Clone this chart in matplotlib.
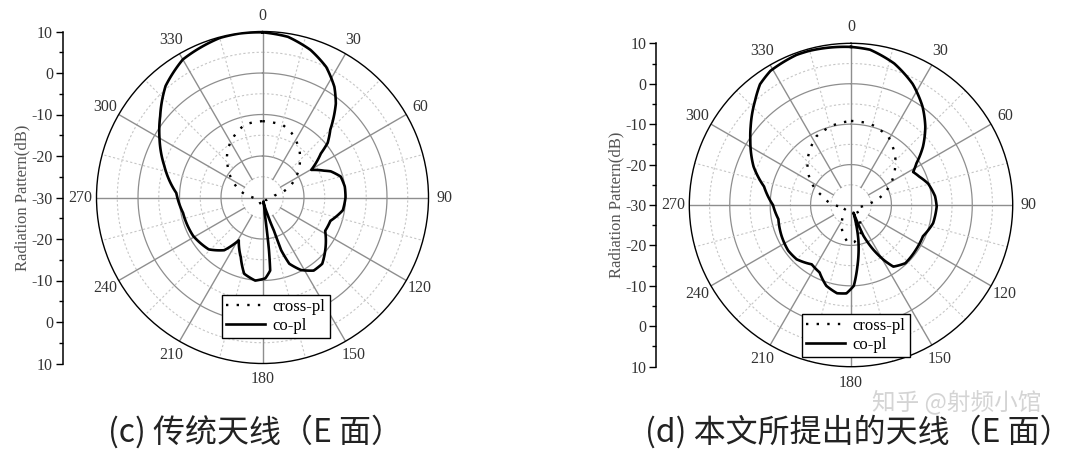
import numpy as np
import matplotlib.pyplot as plt

plt.rcParams['font.family'] = ['Liberation Serif', 'Noto Sans CJK SC', 'DejaVu Sans']

# (c) conventional antenna, E-plane  (angle in deg, gain in dB)
c_co_ang = [0, 9, 18, 26, 33, 38, 45, 50, 53, 60.5, 66.5, 69, 75, 82.5, 90, 99, 109, 118, 128, 138,
            145, 152, 158, 160.5, 161, 163.5, 168, 172, 173, 174, 178, 185, 193.5, 200, 209, 216,
            226, 241, 259, 273, 288, 299.5, 308.5, 319, 330, 345, 352, 360]
c_co_db = [9.8, 9.2, 7.4, 5.0, 1.8, -1.3, -6.9, -9.5, -12.4, -16.5, -13.8, -12.4, -10.5, -10.0, -10.0,
           -10.4, -12.7, -12.9, -10.7, -8.5, -8.5, -10.2, -12.8, -16.5, -21.6, -25.9, -29.0, -26.2,
           -17.2, -12.3, -10.5, -9.9, -11.1, -14.7, -18.2, -14.3, -12.0, -10.9, -10.5, -9.2, -5.1,
           -1.5, 1.5, 5.6, 8.4, 9.8, 9.9, 9.8]
c_x_ang = [0, 16, 24, 37.5, 44.5, 51, 66, 74, 80, 100, 130, 160, 180, 200, 230, 260, 272, 280.5,
           293, 312, 324, 338, 346.5, 360]
c_x_db = [-11.6, -11.9, -12.9, -15.4, -17.1, -18.6, -22.4, -24.7, -27.0, -28.5, -29.0, -28.5, -28.0,
          -28.5, -29.0, -28.5, -27.5, -25.7, -23.1, -18.7, -15.7, -13.2, -11.9, -11.6]

# (d) proposed antenna, E-plane
d_co_ang = [0, 7, 17, 27, 36, 43.5, 51, 57.5, 62, 67.5, 74.5, 84, 91, 102.5, 113.5, 124.5, 137,
            145.5, 149, 153.5, 158, 159.5, 162, 164, 168, 174, 178, 183, 189, 197, 205, 213.5, 225,
            234, 246, 259, 270, 282, 291.5, 303, 308, 317.5, 323, 329, 340, 345, 360]
d_co_db = [9.1, 8.7, 6.6, 3.6, 0.1, -3.3, -7.1, -10.8, -12.6, -11.7, -10.2, -9.1, -8.8, -9.2, -10.6,
           -10.5, -10.3, -11.5, -14.0, -17.7, -21.8, -25.3, -28.0, -26.3, -21.3, -14.8, -10.0, -8.1,
           -7.9, -9.1, -11.6, -12.4, -11.0, -10.8, -11.2, -11.7, -10.7, -8.0, -4.1, -0.3, 1.5, 5.1,
           7.4, 8.7, 9.5, 9.5, 9.1]
d_x_ang = [0, 14, 29, 42.5, 59, 74, 82, 90, 110, 135, 155, 162, 175, 184, 196, 215, 240, 262, 271,
           287, 300, 316, 333, 347, 360]
d_x_db = [-9.2, -9.4, -10.8, -13.8, -18.1, -22.2, -24.5, -26.5, -28.5, -28.0, -24.7, -22.3, -20.8,
          -20.6, -22.7, -26.5, -28.5, -27.5, -25.5, -22.7, -18.5, -14.5, -11.0, -9.8, -9.2]

theta_ticks = list(range(0, 360, 30))
r_min, r_max = -30, 10
side_pos = [-40, -30, -20, -10, 0, 10, 20, 30, 40]
side_labels = ['10', '0', '-10', '-20', '-30', '-20', '-10', '0', '10']
captions = ['(c) 传统天线（E 面）', '(d) 本文所提出的天线（E 面）']

W, H = 1080, 453
fig = plt.figure(figsize=(W / 100, H / 100), dpi=100)


def panel(cx, cy, rad, side_x, co_ang, co_db, x_ang, x_db, leg_xy, ylab_x, caption, cap_x):
    box = [(cx - rad) / W, (H - cy - rad) / H, 2 * rad / W, 2 * rad / H]
    ax = fig.add_axes(box, projection='polar')
    ax.set_theta_zero_location('N')
    ax.set_theta_direction(-1)
    ax.set_ylim(r_min, r_max)
    ax.grid(False)
    ax.set_yticks([])

    full = np.linspace(0, 2 * np.pi, 721)
    for r in [-25, -15, -5, 5]:
        ax.plot(full, np.full_like(full, r), color='#c6c6c6', lw=0.8, ls=(0, (2, 2)), zorder=1)
    for r in [-20, -10, 0]:
        ax.plot(full, np.full_like(full, r), color='#8e8e8e', lw=0.9, zorder=1)
    for a in range(15, 360, 30):
        ax.plot([np.deg2rad(a)] * 2, [-20, 10], color='#c6c6c6', lw=0.8, ls=(0, (2, 2)), zorder=1)
    for a in theta_ticks:
        start = -30 if a % 90 == 0 else -25
        ax.plot([np.deg2rad(a)] * 2, [start, 10], color='#8e8e8e', lw=1.0, zorder=1)

    lx, = ax.plot(np.deg2rad(x_ang), x_db, color='black', lw=1.7, ls=(0, (1, 3.5)),
                  label='cross-pl', zorder=3)
    lc, = ax.plot(np.deg2rad(co_ang), co_db, color='black', lw=1.9, label='co-pl', zorder=4)
    # draw segments as arcs/spirals in polar space instead of straight chords
    for ln in (lx, lc):
        ln.get_path()._interpolation_steps = 30

    ax.set_xticks(np.deg2rad(theta_ticks))
    ax.set_xticklabels([str(t) for t in theta_ticks])
    ax.tick_params(axis='x', pad=1, labelsize=11.5, labelcolor='#333333')
    ax.spines['polar'].set_color('black')
    ax.spines['polar'].set_linewidth(1.0)

    leg = ax.legend(loc='upper left', bbox_to_anchor=(leg_xy[0] / W, 1 - leg_xy[1] / H),
                    bbox_transform=fig.transFigure, fontsize=12, frameon=True, fancybox=False,
                    borderpad=0.25, labelspacing=0.15, handlelength=2.3, handletextpad=0.5,
                    borderaxespad=0)
    leg.get_frame().set_edgecolor('black')
    leg.get_frame().set_linewidth(1.0)
    leg.get_frame().set_alpha(1)

    sa = fig.add_axes([side_x / W, box[1], 0.0001, box[3]])
    sa.set_ylim(-40, 40)
    sa.set_xticks([])
    sa.set_yticks(side_pos, side_labels)
    sa.set_yticks(np.arange(-35, 40, 10), minor=True)
    for s in ['top', 'right', 'bottom']:
        sa.spines[s].set_visible(False)
    sa.spines['left'].set_linewidth(1.1)
    sa.tick_params(axis='y', which='major', length=5, width=1, labelsize=11.5, labelcolor='#333333', pad=2)
    sa.tick_params(axis='y', which='minor', length=3, width=1)
    sa.patch.set_visible(False)

    fig.text(ylab_x / W, 1 - cy / H, 'Radiation Pattern(dB)', rotation=90, ha='center', va='center',
             fontsize=12, color='#555555')
    fig.text(cap_x / W, 1 - 432 / H, caption, ha='center', va='center', fontsize=23,
             color='#222222', family=['Noto Sans CJK SC', 'DejaVu Sans'])


panel(262.5, 197.5, 166, 62.7, c_co_ang, c_co_db, c_x_ang, c_x_db, (222, 295), 22.4, captions[0], 256)
panel(851, 205, 161.7, 656.2, d_co_ang, d_co_db, d_x_ang, d_x_db, (802, 314), 616, captions[1], 858)

fig.text(957 / W, 1 - 402 / H, '知乎 @射频小馆', ha='center', va='center', fontsize=17,
         color='#d4d4d4', family=['Noto Sans CJK SC', 'DejaVu Sans'], zorder=0)

fig.savefig('out.png', dpi=100)
